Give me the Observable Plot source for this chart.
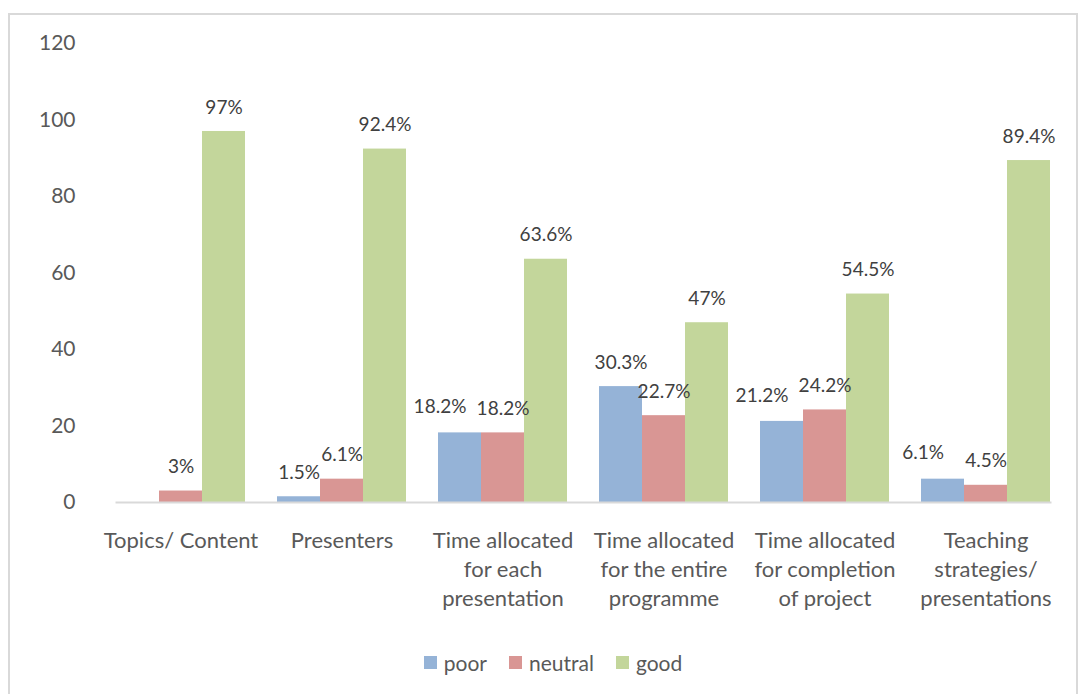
<!DOCTYPE html>
<html>
<head>
<meta charset="utf-8">
<script src="https://cdn.jsdelivr.net/npm/d3@7"></script>
<script src="https://cdn.jsdelivr.net/npm/@observablehq/plot@0.6"></script>
<style>
  body { margin: 0; background: #fff; font-family: Lato, "Open Sans", sans-serif; }
  #wrap { position: relative; width: 1083px; height: 694px; overflow: hidden; }
  #frame { position: absolute; left: 8px; top: 13px; width: 1070px; height: 700px; border: 2px solid #D9D9D9; box-sizing: border-box; }
  #chart { position: absolute; left: 0; top: 0; }
  #legend { position: absolute; left: 0; top: 650px; width: 1106px; display: flex; justify-content: center; gap: 22px; font-size: 21px; color: #595959; }
  .item { display: flex; align-items: center; gap: 7px; }
  .sw { width: 13px; height: 13px; display: inline-block; }
</style>
</head>
<body>
<div id="wrap">
  <div id="frame"></div>
  <div id="chart"></div>
  <div id="legend"></div>
</div>
<script>
const categories = [
  "Topics/ Content",
  "Presenters",
  "Time allocated\nfor each\npresentation",
  "Time allocated\nfor the entire\nprogramme",
  "Time allocated\nfor completion\nof project",
  "Teaching\nstrategies/\npresentations"
];
const series = ["poor", "neutral", "good"];
const poor = [null, 1.5, 18.2, 30.3, 21.2, 6.1];
const neutral = [3, 6.1, 18.2, 22.7, 24.2, 4.5];
const good = [97, 92.4, 63.6, 47, 54.5, 89.4];
const yTicks = [0, 20, 40, 60, 80, 100, 120];
const colors = ["#95B3D7", "#D99694", "#C3D69B"];

const values = {poor, neutral, good};
const data = [];
categories.forEach((c, i) => {
  series.forEach(s => {
    data.push({category: c, series: s, value: values[s][i], idx: i});
  });
});
const bars = data.filter(d => d.value != null);
// poor labels that would collide with the neighbouring neutral label are nudged left
const crowded = d => d.series === "poor" && Math.abs(d.value - neutral[d.idx]) < 4;
const labelsNormal = bars.filter(d => !crowded(d));
const labelsNudged = bars.filter(d => crowded(d));

const chart = Plot.plot({
  width: 1083,
  height: 640,
  marginTop: 43,
  marginBottom: 138,
  marginLeft: 99,
  marginRight: 16,
  style: {fontFamily: "Lato, 'Open Sans', sans-serif", background: "transparent"},
  fx: {domain: categories, paddingInner: 0.2, paddingOuter: 0.1, label: null},
  x: {domain: series, padding: 0, axis: null},
  y: {domain: [0, 120], ticks: yTicks, label: null},
  color: {domain: series, range: colors},
  marks: [
    Plot.axisY({ticks: yTicks, tickSize: 0, tickPadding: 24, dx: -17, fontSize: 21, fill: "#595959", label: null}),
    Plot.axisFx({anchor: "bottom", tickSize: 0, tickPadding: 25, fontSize: 22, lineHeight: 1.32, fill: "#595959", label: null}),
    Plot.barY(bars, {fx: "category", x: "series", y: "value", fill: "series"}),
    Plot.frame({anchor: "bottom", facet: "super", stroke: "#D9D9D9", strokeWidth: 2}),
    Plot.text(labelsNormal, {fx: "category", x: "series", y: "value", text: d => d.value + "%", dy: -24, fontSize: 19, fill: "#404040"}),
    Plot.text(labelsNudged, {fx: "category", x: "series", y: "value", text: d => d.value + "%", dy: -26, dx: -20, fontSize: 19, fill: "#404040"})
  ]
});
document.getElementById("chart").appendChild(chart);

const legend = document.getElementById("legend");
series.forEach((s, i) => {
  const item = document.createElement("div");
  item.className = "item";
  const sw = document.createElement("span");
  sw.className = "sw";
  sw.style.background = colors[i];
  const t = document.createElement("span");
  t.textContent = s;
  item.appendChild(sw);
  item.appendChild(t);
  legend.appendChild(item);
});
</script>
</body>
</html>
